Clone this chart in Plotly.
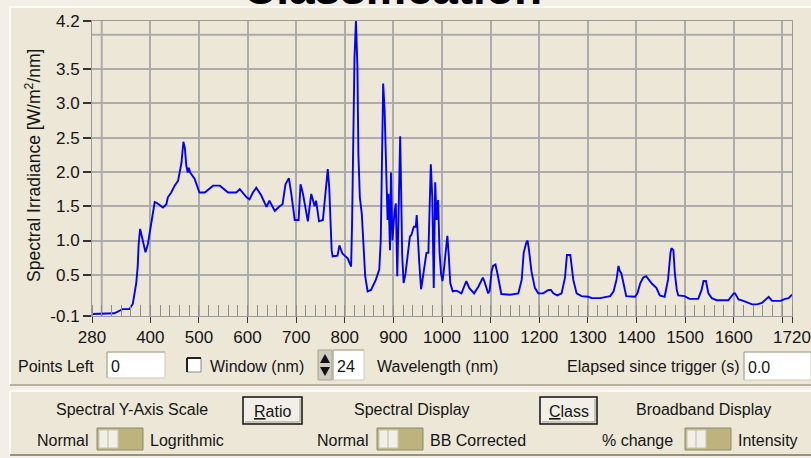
import plotly.graph_objects as go

# spectrum
wavelength_nm = [
    280, 300, 326, 343, 357, 364, 371, 374, 376, 379, 383, 390, 395, 402, 409, 413,
    426, 433, 436, 443, 450, 457, 464, 468, 471, 474, 477, 479, 482, 491, 501, 512,
    529, 543, 560, 577, 584, 598, 604, 611, 618, 628, 639, 645, 656, 666, 672, 678,
    685, 690, 697, 705, 709, 714, 720, 724, 731, 738, 741, 747, 755, 759, 762, 765,
    768, 771, 773, 775, 785, 789, 795, 806, 813, 815, 817, 820, 823, 826, 828, 831,
    835, 838, 842, 847, 854, 864, 871, 874, 876, 879, 882, 885, 888, 890, 893, 895,
    898, 902, 905, 908, 912, 914, 916, 918, 921, 925, 934, 937, 942, 946, 948, 950,
    953, 957, 961, 968, 972, 977, 980, 983, 986, 989, 992, 995, 998, 1001, 1004, 1008,
    1011, 1014, 1017, 1022, 1030, 1040, 1047, 1050, 1056, 1066, 1075, 1084, 1087, 1095, 1098, 1102,
    1105, 1110, 1114, 1119, 1122, 1140, 1157, 1164, 1168, 1173, 1176, 1179, 1184, 1191, 1198, 1208,
    1219, 1224, 1229, 1237, 1246, 1253, 1257, 1264, 1270, 1277, 1287, 1301, 1308, 1325, 1346, 1353,
    1359, 1363, 1366, 1369, 1375, 1379, 1397, 1402, 1408, 1414, 1420, 1425, 1432, 1441, 1448, 1458,
    1465, 1470, 1472, 1476, 1479, 1483, 1486, 1499, 1509, 1527, 1534, 1538, 1543, 1548, 1555, 1565,
    1589, 1600, 1603, 1610, 1620, 1638, 1648, 1658, 1672, 1679, 1696, 1706, 1713, 1720,
]
irradiance = [
    -0.07, -0.07, -0.06, 0.0, 0.0, 0.08, 0.38, 0.62, 0.95, 1.17, 1.05, 0.83, 0.95, 1.24, 1.56, 1.55,
    1.48, 1.53, 1.63, 1.70, 1.80, 1.87, 2.13, 2.44, 2.35, 2.09, 1.99, 2.06, 1.99, 1.90, 1.70, 1.70,
    1.80, 1.80, 1.70, 1.70, 1.75, 1.63, 1.60, 1.70, 1.77, 1.66, 1.49, 1.58, 1.43, 1.50, 1.53, 1.82,
    1.91, 1.68, 1.30, 1.30, 1.82, 1.68, 1.45, 1.28, 1.68, 1.50, 1.58, 1.28, 1.30, 1.59, 1.87, 2.04,
    1.77, 1.20, 0.86, 0.77, 0.78, 0.93, 0.81, 0.74, 0.62, 1.25, 2.50, 3.67, 4.20, 3.53, 2.26, 1.63,
    1.39, 0.96, 0.48, 0.26, 0.28, 0.43, 0.58, 1.00, 1.97, 3.29, 2.88, 1.97, 1.30, 1.68, 0.86, 1.99,
    1.00, 1.39, 1.54, 0.48, 1.99, 2.52, 1.70, 0.80, 0.38, 0.52, 1.06, 1.08, 1.20, 1.20, 1.37, 1.00,
    0.70, 0.29, 0.46, 0.82, 0.82, 2.11, 1.63, 0.31, 1.85, 1.30, 1.59, 0.82, 0.52, 0.41, 0.58, 0.90,
    1.07, 0.77, 0.38, 0.26, 0.27, 0.23, 0.36, 0.41, 0.31, 0.23, 0.33, 0.46, 0.41, 0.23, 0.27, 0.55,
    0.63, 0.65, 0.52, 0.31, 0.22, 0.21, 0.23, 0.43, 0.82, 0.96, 1.00, 0.86, 0.55, 0.31, 0.23, 0.23,
    0.28, 0.28, 0.23, 0.20, 0.23, 0.46, 0.79, 0.79, 0.43, 0.23, 0.19, 0.18, 0.16, 0.16, 0.19, 0.26,
    0.43, 0.63, 0.55, 0.52, 0.33, 0.19, 0.18, 0.23, 0.38, 0.46, 0.48, 0.43, 0.37, 0.31, 0.20, 0.18,
    0.43, 0.82, 0.89, 0.86, 0.52, 0.28, 0.20, 0.19, 0.15, 0.15, 0.28, 0.41, 0.41, 0.23, 0.16, 0.13,
    0.13, 0.23, 0.23, 0.14, 0.12, 0.07, 0.07, 0.09, 0.18, 0.12, 0.12, 0.15, 0.16, 0.21,
]

x_tickvals = [280, 400, 500, 600, 700, 800, 900, 1000, 1100, 1200, 1300, 1400, 1500, 1600, 1700, 1720]
x_ticktext = ["280", "400", "500", "600", "700", "800", "900", "1000", "1100", "1200",
              "1300", "1400", "1500", "1600", "", "1720"]
y_tickvals = [-0.1, 0.5, 1.0, 1.5, 2.0, 2.5, 3.0, 3.5, 4.2]
y_ticktext = ["-0.1", "0.5", "1.0", "1.5", "2.0", "2.5", "3.0", "3.5", "4.2"]

# LOOK
W, H = 811, 458
L, R, T, B = 92, 792, 21, 316
FONT = "Liberation Sans, Arial, sans-serif"
INK = "#151515"
PANEL = "#ECE7D7"
OUTER = "#F3EFE6"
GRID = "#ABABAB"
OLIVE = "#BCB47C"


def xp(px):
    return (px - L) / (R - L)


def yp(py):
    return (B - py) / (B - T)


shapes = []
annotations = []


def rect(x0, y0, x1, y1, fill, line=None, lw=1, layer="below"):
    shapes.append(dict(
        type="rect", xref="paper", yref="paper",
        x0=xp(x0), x1=xp(x1), y0=yp(y1), y1=yp(y0),
        fillcolor=fill, line=dict(color=line or fill, width=lw if line else 0),
        layer=layer,
    ))


def seg(x0, y0, x1, y1, color, lw=1, layer="below"):
    shapes.append(dict(
        type="line", xref="paper", yref="paper",
        x0=xp(x0), x1=xp(x1), y0=yp(y0), y1=yp(y1),
        line=dict(color=color, width=lw), layer=layer,
    ))


def label(text, x, y, anchor="left", size=16, bold=False, color=INK):
    # annotations pad their text by ~2px, take that back off
    if anchor == "left":
        x -= 2
    elif anchor == "right":
        x += 2
    annotations.append(dict(
        text=f"<b>{text}</b>" if bold else text,
        xref="paper", yref="paper", x=xp(x), y=yp(y),
        xanchor=anchor, yanchor="middle", showarrow=False,
        font=dict(family=FONT, size=size, color=color),
    ))


def textbox(x0, y0, x1, y1, text):
    rect(x0, y0, x1, y1, "white", "#CFCABA", 1)
    seg(x0, y0, x1, y0, "#A9A490", 1)
    seg(x0, y0, x0, y1, "#A9A490", 1)
    label(text, x0 + 4, (y0 + y1) / 2 + 1)


def toggle(x0, y0):
    rect(x0, y0, x0 + 46, y0 + 22, OLIVE, "#8F8A6E", 1)
    rect(x0 + 2, y0 + 2, x0 + 21, y0 + 20, "#F2EFE6", "#C9C5B4", 1)
    seg(x0 + 11, y0 + 2, x0 + 11, y0 + 20, "#BDB9A8", 1)


def button(x0, y0, x1, y1, text):
    rect(x0, y0, x1, y1, "#F1EFE6", "#111111", 1.5)
    seg(x0 + 2, y1 - 2, x1 - 2, y1 - 2, "#9C9888", 1)
    seg(x1 - 2, y0 + 2, x1 - 2, y1 - 2, "#9C9888", 1)
    label(text, (x0 + x1) / 2, (y0 + y1) / 2 + 1, anchor="center")


# window panels
rect(10, 7, 811, 385, PANEL)
seg(10, 7, 811, 7, "white", 1.5)
seg(10, 7, 10, 385, "white", 1.5)
seg(10, 385, 811, 385, "#A59F88", 1.5)
rect(10, 391, 811, 455, PANEL)
seg(10, 391, 811, 391, "white", 1.5)
seg(10, 391, 10, 455, "white", 1.5)
seg(10, 455, 811, 455, "#9A9274", 2)

# cut off heading
label("Classification", 392, -12, anchor="center", size=46, bold=True, color="#000000")

# y-axis title
annotations.append(dict(
    text="Spectral Irradiance [W/m<sup>2</sup>/nm]",
    xref="paper", yref="paper", x=xp(33), y=yp(166),
    xanchor="center", yanchor="middle", textangle=-90, showarrow=False,
    font=dict(family=FONT, size=17.5, color=INK),
))

# row under the chart
label("Points Left", 18, 366)
textbox(107, 352, 165, 378, "0")
rect(187, 358, 201, 372, "white", "#8A8A8A", 1)
seg(187, 358, 201, 358, "#222222", 2)
seg(187, 358, 187, 372, "#222222", 2)
label("Window (nm)", 210, 366)
rect(318, 350, 332, 380, "#CFCBBF", "#A8A493", 1)
shapes.append(dict(type="path", xref="paper", yref="paper", layer="below",
                   path=f"M {xp(320)} {yp(363)} L {xp(330)} {yp(363)} L {xp(325)} {yp(354)} Z",
                   fillcolor="#111111", line=dict(width=0)))
shapes.append(dict(type="path", xref="paper", yref="paper", layer="below",
                   path=f"M {xp(320)} {yp(367)} L {xp(330)} {yp(367)} L {xp(325)} {yp(376)} Z",
                   fillcolor="#111111", line=dict(width=0)))
textbox(333, 350, 364, 380, "24")
label("Wavelength (nm)", 377, 366)
label("Elapsed since trigger (s)", 740, 366, anchor="right")
textbox(744, 352, 811, 380, "0.0")

# bottom control panel
label("Spectral Y-Axis Scale", 132, 409, anchor="center")
button(243, 397, 302, 424, "<u>R</u>atio")
label("Spectral Display", 412, 409, anchor="center")
button(540, 397, 597, 424, "<u>C</u>lass")
label("Broadband Display", 703, 409, anchor="center")

label("Normal", 37, 440)
toggle(97, 428)
label("Logrithmic", 150, 440)
label("Normal", 317, 440)
toggle(377, 428)
label("BB Corrected", 430, 440)
label("% change", 602, 440)
toggle(685, 428)
label("Intensity", 738, 440)

# grid lines that carry no label
shapes.append(dict(type="line", xref="x", yref="y", x0=300, x1=300, y0=-0.1, y1=4.2,
                   line=dict(color=GRID, width=2), layer="below"))
shapes.append(dict(type="line", xref="x", yref="y", x0=280, x1=1720, y0=4.0, y1=4.0,
                   line=dict(color=GRID, width=2), layer="below"))

fig = go.Figure(go.Scatter(
    x=wavelength_nm, y=irradiance, mode="lines",
    line=dict(color="#0000FF", width=1.9), hoverinfo="skip",
))

fig.update_layout(
    width=W, height=H,
    margin=dict(l=L, r=W - R, t=T, b=H - B),
    paper_bgcolor=OUTER, plot_bgcolor="#E6E6E6",
    showlegend=False,
    shapes=shapes, annotations=annotations,
    font=dict(family=FONT, size=16, color=INK),
)
# automargin off: the 1720 label touches the right edge and would squeeze the plot
fig.update_xaxes(
    range=[280, 1720], tickmode="array", tickvals=x_tickvals, ticktext=x_ticktext,
    automargin=False,
    showgrid=True, gridcolor=GRID, gridwidth=2,
    ticks="outside", ticklen=6, tickcolor="#333333",
    showline=True, linecolor="#9A9A9A", linewidth=1, mirror=True,
    zeroline=False, tickfont=dict(family=FONT, size=17, color=INK),
    minor=dict(ticks="inside", tick0=280, dtick=20, ticklen=11, tickcolor="#8E8E8E",
               tickwidth=1, showgrid=False),
)
fig.update_yaxes(
    range=[-0.1, 4.2], tickmode="array", tickvals=y_tickvals, ticktext=y_ticktext,
    automargin=False,
    showgrid=True, gridcolor=GRID, gridwidth=2,
    ticks="outside", ticklen=8, tickcolor="#333333", tickwidth=1.5,
    showline=True, linecolor="#9A9A9A", linewidth=1, mirror=True,
    zeroline=False, tickfont=dict(family=FONT, size=17, color=INK),
)

# the page body has a default 8px margin that would push the figure off its pixel grid
fig.write_html(
    "out.html",
    config={"displayModeBar": False},
    post_script="document.body.style.margin = '0';",
)
